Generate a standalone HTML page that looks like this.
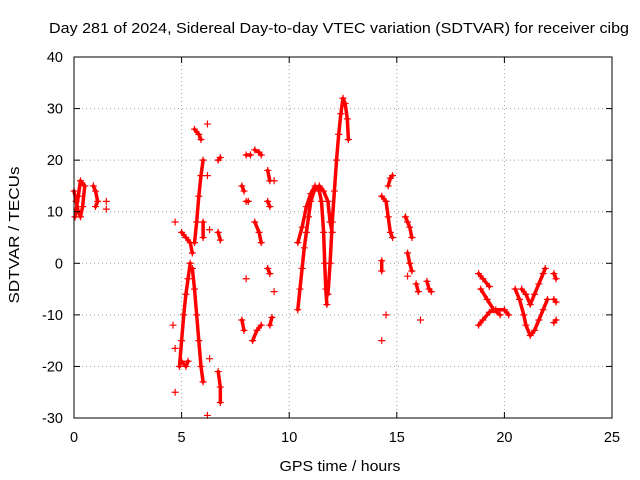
<!DOCTYPE html>
<html><head><meta charset="utf-8"><style>
body{margin:0;background:#fff}
svg{display:block;font-family:"Liberation Sans",sans-serif}
</style></head><body>
<svg id="chart" width="640" height="480">
<text x="339" y="33" font-size="15" text-anchor="middle" textLength="580" lengthAdjust="spacingAndGlyphs">Day 281 of 2024, Sidereal Day-to-day VTEC variation (SDTVAR) for receiver cibg</text>
<text x="340" y="471" font-size="15" text-anchor="middle" textLength="121" lengthAdjust="spacingAndGlyphs">GPS time / hours</text>
<text transform="translate(19,235) rotate(-90)" font-size="15" text-anchor="middle" textLength="137" lengthAdjust="spacingAndGlyphs">SDTVAR / TECUs</text>
<g id="grid"></g><g id="marks"></g><g id="axes"></g>
</svg>
<script>
const xTicks=[0,5,10,15,20,25];
const yTicks=[-30,-20,-10,0,10,20,30,40];
const tracks=[
[[0,14],[0.1,12],[0.2,10],[0.3,9],[0.4,11],[0.5,15],[0.3,16],[0.2,13],[0.05,9]],
[[0.9,15],[1.0,14],[1.1,12],[1.0,11]],
[[1.5,12]],[[1.5,10.5]],
[[4.7,8]],[[4.6,-12]],[[4.7,-16.5]],[[4.7,-25]],
[[5.0,6],[5.2,5],[5.4,4],[5.5,2]],
[[4.9,-20],[5.0,-15],[5.1,-10],[5.2,-6],[5.3,-3],[5.4,0]],
[[5.0,-19],[5.2,-20],[5.3,-19]],
[[5.5,-1],[5.6,-5],[5.7,-10],[5.8,-15],[5.9,-20],[6.0,-23]],
[[5.6,4],[5.7,8],[5.8,13],[5.9,17],[6.0,20]],
[[5.6,26],[5.8,25],[5.9,24]],
[[6.0,8],[6.0,5]],
[[6.2,27]],[[6.2,17]],[[6.3,6.5]],[[6.3,-18.5]],[[6.2,-29.5]],
[[6.7,20],[6.8,20.5]],[[6.7,6],[6.8,4.5]],[[6.7,-21],[6.8,-24],[6.8,-27]],
[[7.8,15],[7.9,14]],[[7.8,-11],[7.9,-13]],[[8.0,12],[8.1,12]],[[8.0,-3]],[[8.0,21],[8.2,21]],
[[8.4,22],[8.6,21.5],[8.7,21]],[[8.4,8],[8.6,6],[8.7,4]],[[8.3,-15],[8.5,-13],[8.7,-12]],
[[9.0,18],[9.1,16]],[[9.0,12],[9.1,11]],[[9.0,-1],[9.1,-2]],[[9.1,-12],[9.2,-10.5]],[[9.3,16]],[[9.3,-5.5]],
[[10.4,-9],[10.5,-5],[10.6,-1],[10.7,3],[10.8,6],[10.9,9],[11.0,12],[11.2,14.5],[11.4,15],[11.6,14],[11.8,12],[11.9,8],[12.0,6]],
[[10.4,4],[10.6,7],[10.8,11],[11.0,13.5],[11.2,15],[11.4,14],[11.5,12],[11.6,6],[11.65,0],[11.7,-5],[11.75,-8]],
[[11.8,-6],[11.9,0],[12.0,8],[12.1,14],[12.2,20],[12.3,25],[12.4,29],[12.5,32],[12.6,31],[12.7,28],[12.75,24]],
[[14.3,13],[14.5,12],[14.6,9],[14.7,6],[14.8,5]],[[14.6,15],[14.7,16.5],[14.8,17]],[[14.3,0.5],[14.3,-1.5]],[[14.5,-10]],[[14.3,-15]],
[[15.4,9],[15.5,8],[15.6,7],[15.7,5]],[[15.5,2],[15.6,0],[15.7,-1.5]],[[15.5,-2.5]],[[15.9,-4],[16.0,-5.5]],[[16.1,-11]],[[16.4,-3.5],[16.5,-5],[16.6,-5.5]],
[[18.8,-2],[19.0,-3],[19.3,-4.5]],[[18.9,-5],[19.2,-7],[19.5,-9],[19.8,-10]],[[18.8,-12],[19.0,-11],[19.3,-9.5],[19.6,-9],[20.0,-9],[20.2,-10]],
[[20.5,-5],[20.7,-7],[20.9,-10],[21.0,-12],[21.2,-14],[21.4,-13],[21.6,-11],[21.8,-9],[22.0,-7]],
[[20.8,-5],[21.0,-6],[21.2,-8],[21.4,-6],[21.6,-4],[21.8,-2],[21.9,-1]],
[[22.3,-2],[22.4,-3]],[[22.3,-7],[22.4,-7.5]],[[22.3,-11.5],[22.4,-11]]
];
const L=74,R=612,T=57,B=418;
const xs=v=>L+(v-0)/(25-0)*(R-L);
const ys=v=>B-(v+30)/70*(B-T);
const NS='http://www.w3.org/2000/svg';
function mk(t,a,p){const e=document.createElementNS(NS,t);for(const k in a)e.setAttribute(k,a[k]);p.appendChild(e);return e;}
const grid=document.getElementById('grid'),axes=document.getElementById('axes'),marks=document.getElementById('marks');
xTicks.forEach(v=>{
 if(v>0&&v<25){const g=mk('line',{x1:xs(v),x2:xs(v),y1:T,y2:B,stroke:'#a0a0a0','stroke-dasharray':'1,3'},grid);
 
 }
 const t=mk('text',{x:xs(v),y:B+24,'font-size':14.5,'text-anchor':'middle'},axes);t.textContent=v;
 
 
 mk('line',{x1:xs(v),x2:xs(v),y1:B,y2:B-6,stroke:'#000'},axes);
 mk('line',{x1:xs(v),x2:xs(v),y1:T,y2:T+6,stroke:'#000'},axes);
});
yTicks.forEach(v=>{
 if(v>-30&&v<40){const g=mk('line',{x1:L,x2:R,y1:ys(v),y2:ys(v),stroke:'#a0a0a0','stroke-dasharray':'1,3'},grid);
 
 }
 const t=mk('text',{x:L-11,y:ys(v)+5,'font-size':14.5,'text-anchor':'end'},axes);t.textContent=v;
 
 
 mk('line',{x1:L,x2:L+6,y1:ys(v),y2:ys(v),stroke:'#000'},axes);
 mk('line',{x1:R,x2:R-6,y1:ys(v),y2:ys(v),stroke:'#000'},axes);
});
const frame=mk('rect',{x:L,y:T,width:R-L,height:B-T,fill:'none',stroke:'#000'},axes);


tracks.forEach(tr=>{
 if(tr.length>1){const pl=mk('polyline',{points:tr.map(p=>xs(p[0])+','+ys(p[1])).join(' '),fill:'none',stroke:'#f00','stroke-width':3.5,'stroke-linejoin':'round','stroke-linecap':'round'},marks);
 
 }
 tr.forEach(p=>{const x=xs(p[0]),y=ys(p[1]);
  const m=mk('path',{d:`M${x-3.5},${y}H${x+3.5}M${x},${y-3.5}V${y+3.5}`,stroke:'#f00','stroke-width':1.2},marks);
  
  
 });
});
</script>
</body></html>
